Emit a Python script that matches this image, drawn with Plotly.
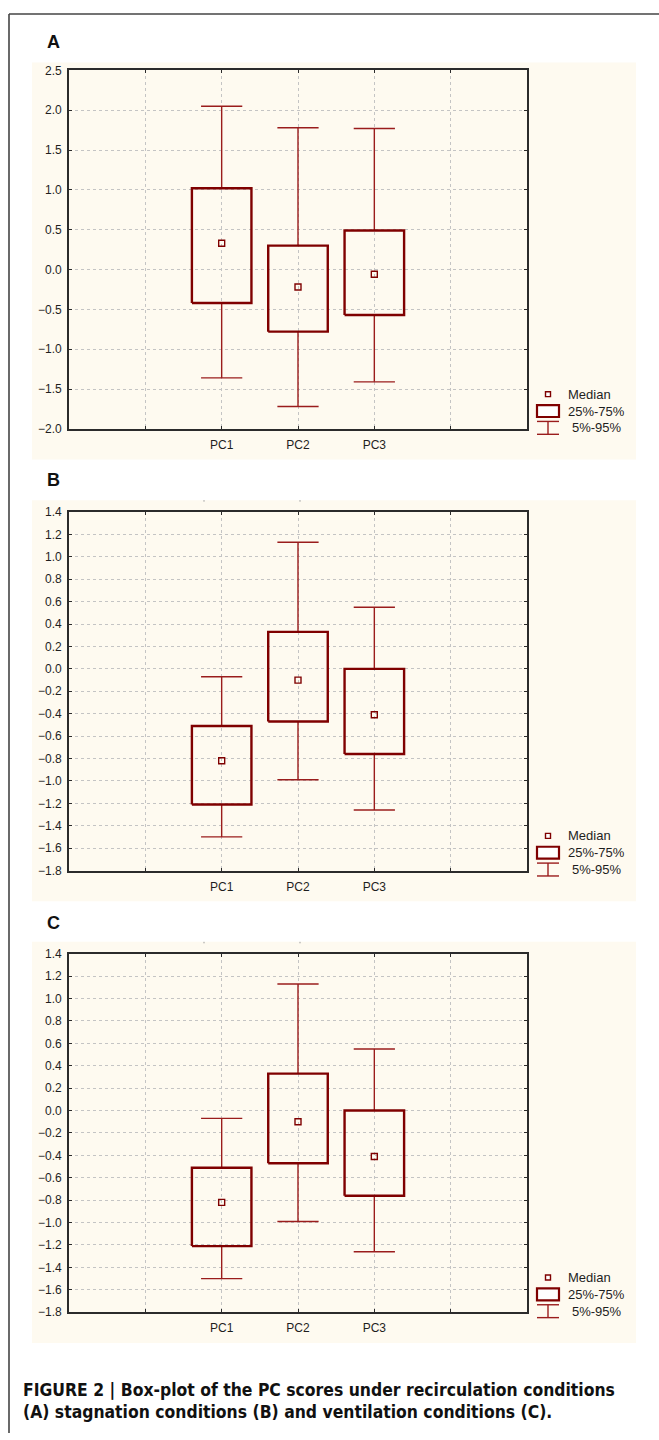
import plotly.graph_objects as go

W, H = 659, 1440

categories = ["PC1", "PC2", "PC3"]
cat_pos = [2, 3, 4]
x_tickvals = [0, 1, 2, 3, 4, 5, 6]
x_ticktext = ["", "", "PC1", "PC2", "PC3", "", ""]

# Panel A (recirculation)
a_p5 = [-1.36, -1.72, -1.41]
a_q1 = [-0.42, -0.78, -0.57]
a_med = [0.33, -0.22, -0.06]
a_q3 = [1.02, 0.30, 0.49]
a_p95 = [2.05, 1.78, 1.77]

# Panel B (stagnation)
b_p5 = [-1.50, -0.99, -1.26]
b_q1 = [-1.21, -0.47, -0.76]
b_med = [-0.82, -0.10, -0.41]
b_q3 = [-0.51, 0.33, 0.00]
b_p95 = [-0.07, 1.13, 0.55]

# Panel C (ventilation)
c_p5 = [-1.50, -0.99, -1.26]
c_q1 = [-1.21, -0.47, -0.76]
c_med = [-0.82, -0.10, -0.41]
c_q3 = [-0.51, 0.33, 0.00]
c_p95 = [-0.07, 1.13, 0.55]

panel_letters = ["A", "B", "C"]
y_ranges = [[-2.0, 2.5], [-1.8, 1.4], [-1.8, 1.4]]
y_dticks = [0.5, 0.2, 0.2]

caption_1 = "FIGURE 2 | Box-plot of the PC scores under recirculation conditions"
caption_2 = "(A) stagnation conditions (B) and ventilation conditions (C)."

BOX_COLOR = "#7f0000"
WHISK_COLOR = "#9a1c1c"
CREAM = "#fefaf0"
FONT = "Liberation Sans, Arial, sans-serif"


def px(x):
    return x / W


def py(y):
    return 1 - y / H


panels = [
    (a_p5, a_q1, a_med, a_q3, a_p95),
    (b_p5, b_q1, b_med, b_q3, b_p95),
    (c_p5, c_q1, c_med, c_q3, c_p95),
]
plot_tops = [64, 510, 956]
plot_h = 362
cream_tops = [56, 498, 944]
letter_y = [35, 478, 925]
X0, X1 = 69, 527

fig = go.Figure()
shapes = []
annotations = []

BOX_HALF = 0.39
CAP_HALF = 0.27

for k, (p5, q1, med, q3, p95) in enumerate(panels):
    n = k + 1
    xa = "x" if n == 1 else f"x{n}"
    ya = "y" if n == 1 else f"y{n}"
    top = plot_tops[k]
    bot = top + plot_h

    # whiskers
    wx, wy = [], []
    for xc, lo, a, b, hi in zip(cat_pos, p5, q1, q3, p95):
        wx += [xc, xc, None, xc - CAP_HALF, xc + CAP_HALF, None,
               xc, xc, None, xc - CAP_HALF, xc + CAP_HALF, None]
        wy += [b, hi, None, hi, hi, None,
               a, lo, None, lo, lo, None]
    fig.add_trace(go.Scatter(x=wx, y=wy, mode="lines", xaxis=xa, yaxis=ya,
                             line=dict(color=WHISK_COLOR, width=1.4),
                             hoverinfo="skip", showlegend=False))
    # boxes
    bx, by = [], []
    for xc, a, b in zip(cat_pos, q1, q3):
        bx += [xc - BOX_HALF, xc + BOX_HALF, xc + BOX_HALF, xc - BOX_HALF, xc - BOX_HALF, None]
        by += [a, a, b, b, a, None]
    fig.add_trace(go.Scatter(x=bx, y=by, mode="lines", xaxis=xa, yaxis=ya,
                             line=dict(color=BOX_COLOR, width=2.4),
                             hoverinfo="skip", showlegend=False))
    # medians
    fig.add_trace(go.Scatter(x=cat_pos, y=med, mode="markers", xaxis=xa, yaxis=ya,
                             marker=dict(symbol="square-open", size=6,
                                         color=BOX_COLOR, line=dict(width=1.4)),
                             hoverinfo="skip", showlegend=False))

    ydom = [py(bot), py(top)]
    axis_common = dict(showline=True, linecolor="#2b2b2b", linewidth=1.6, mirror="allticks",
                       ticks="inside", ticklen=3, tickcolor="#2b2b2b",
                       showgrid=True, gridcolor="#c4c4c4", griddash="dot", gridwidth=1,
                       zeroline=False, tickfont=dict(family=FONT, size=12, color="#1e1e1e"))
    fig.update_layout(**{
        ("xaxis" if n == 1 else f"xaxis{n}"): dict(
            domain=[px(X0), px(X1)], range=[0, 6], tickmode="array",
            tickvals=x_tickvals, ticktext=x_ticktext, anchor=ya,
            ticklabelstandoff=4, **axis_common),
        ("yaxis" if n == 1 else f"yaxis{n}"): dict(
            domain=ydom, range=y_ranges[k], dtick=y_dticks[k], tick0=0,
            tickformat=".1f", anchor=xa, ticklabelstandoff=3, **axis_common),
    })

    # cream background
    shapes.append(dict(type="rect", xref="paper", yref="paper", layer="below",
                       x0=px(32), x1=px(636), y0=py(bot + 31), y1=py(cream_tops[k]),
                       fillcolor=CREAM, line=dict(width=0)))
    # tiny stray marks at top of the cream area (panels B and C)
    if k > 0:
        for sx in (204, 300):
            shapes.append(dict(type="line", xref="paper", yref="paper",
                               x0=px(sx), x1=px(sx), y0=py(cream_tops[k]),
                               y1=py(cream_tops[k] + 1.5),
                               line=dict(color="#9a9a9a", width=1)))
    # panel letter
    annotations.append(dict(text=f"<b>{panel_letters[k]}</b>", xref="paper", yref="paper",
                            x=px(45), y=py(letter_y[k]), xanchor="left", yanchor="middle",
                            showarrow=False, font=dict(family=FONT, size=18, color="#111")))
    # legend
    lx = 548
    shapes.append(dict(type="rect", xref="paper", yref="paper",
                       x0=px(lx - 2.5), x1=px(lx + 2.5), y0=py(bot - 32.5), y1=py(bot - 37.5),
                       line=dict(color=BOX_COLOR, width=1.4), fillcolor="white"))
    shapes.append(dict(type="rect", xref="paper", yref="paper",
                       x0=px(537), x1=px(559), y0=py(bot - 12), y1=py(bot - 24),
                       line=dict(color=BOX_COLOR, width=2.2), fillcolor="white"))
    for (xa0, ya0, xa1, ya1) in [(537, bot - 7.5, 559, bot - 7.5),
                                 (lx, bot - 7.5, lx, bot + 5.5),
                                 (537, bot + 5.5, 559, bot + 5.5)]:
        shapes.append(dict(type="line", xref="paper", yref="paper",
                           x0=px(xa0), y0=py(ya0), x1=px(xa1), y1=py(ya1),
                           line=dict(color=WHISK_COLOR, width=1.4)))
    for txt, tx, ty in [("Median", 566, bot - 35), ("25%-75%", 566, bot - 18),
                        ("5%-95%", 570, bot - 1)]:
        annotations.append(dict(text=txt, xref="paper", yref="paper", x=px(tx), y=py(ty),
                                xanchor="left", yanchor="middle", showarrow=False,
                                font=dict(family=FONT, size=13, color="#1e1e1e")))

# outer frame lines
shapes.append(dict(type="line", xref="paper", yref="paper", x0=px(9), x1=1, y0=py(7), y1=py(7),
                   line=dict(color="#444", width=1.6)))
shapes.append(dict(type="line", xref="paper", yref="paper", x0=px(9), x1=px(9), y0=py(7), y1=0,
                   line=dict(color="#444", width=1.6)))

# caption
CAP_FONT = "DejaVu Sans Condensed, Liberation Sans Narrow, sans-serif"
for txt, yy in [(caption_1, 1397), (caption_2, 1419)]:
    annotations.append(dict(text=f"<b>{txt}</b>", xref="paper", yref="paper",
                            x=px(21), y=py(yy), xanchor="left", yanchor="middle",
                            showarrow=False, font=dict(family=CAP_FONT, size=17.4, color="#111")))

fig.update_layout(width=W, height=H, margin=dict(l=0, r=0, t=0, b=0),
                  paper_bgcolor="white", plot_bgcolor="white",
                  shapes=shapes, annotations=annotations, showlegend=False)

fig.write_html("out.html", config={"displayModeBar": False},
               post_script="document.body.style.margin='0';document.body.style.overflow='hidden';")
